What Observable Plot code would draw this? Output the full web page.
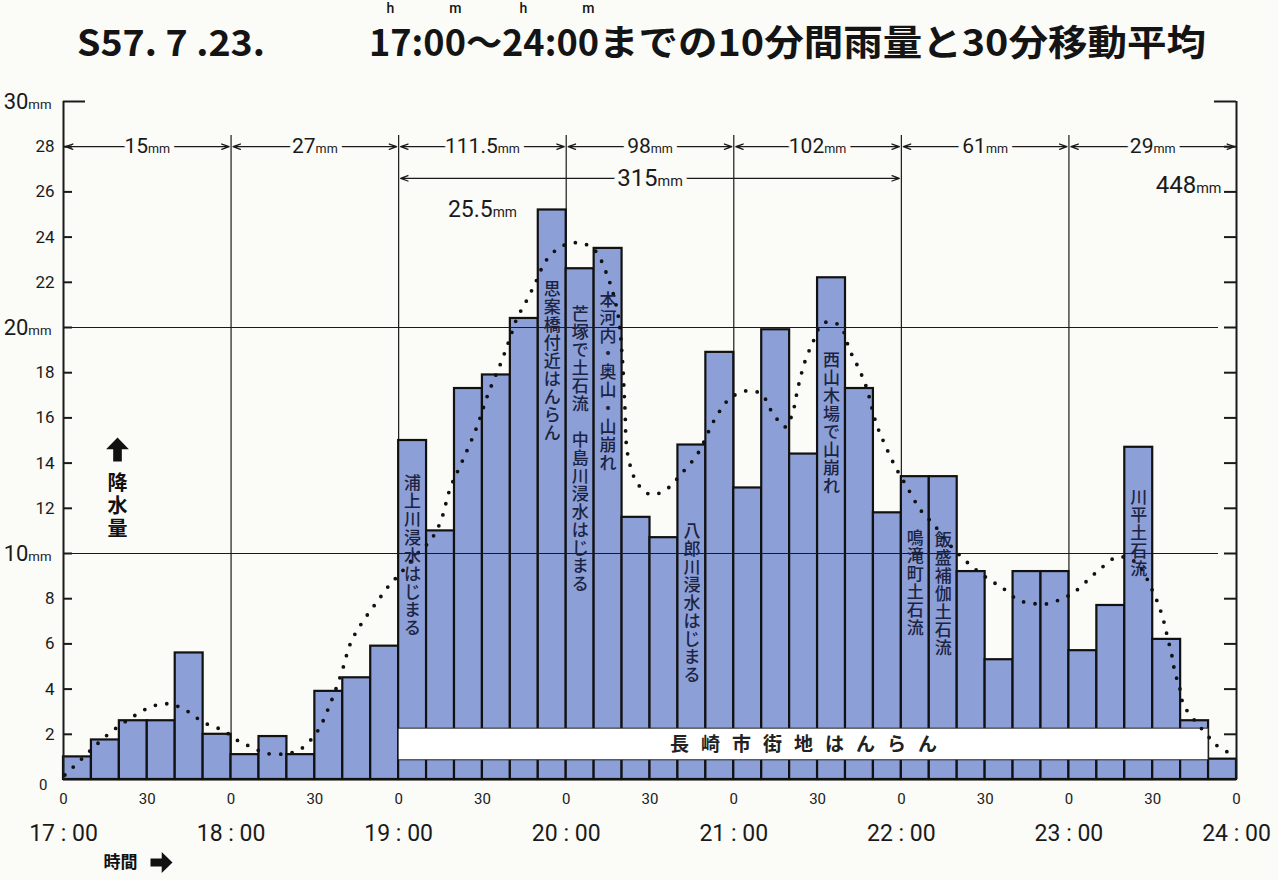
<!DOCTYPE html>
<html><head><meta charset="utf-8">
<script src="https://cdn.jsdelivr.net/npm/d3@7"></script>
<script src="https://cdn.jsdelivr.net/npm/@observablehq/plot@0.6"></script>
<style>
body{margin:0;background:#fbfbf8;width:1278px;height:880px;overflow:hidden;font-family:"Noto Sans CJK JP",sans-serif;}
#title{position:relative;height:70px;}
.tp{position:absolute;top:22px;font-size:36px;font-weight:700;line-height:1;white-space:nowrap;transform-origin:0 0;color:#141414;}
.ov{position:relative;}
.ov i{position:absolute;font-style:normal;font-family:Roboto,sans-serif;font-size:14px;line-height:1;font-weight:500;left:50%;top:-13px;transform:translateX(-50%);}
</style></head>
<body>
<div id="title">
  <span class="tp" data-x="77" data-w="188">S57. 7 .23.</span>
  <span class="tp" data-x="369" data-w="230"><span class="ov">17<i>h</i></span>:0<span class="ov">0<i>m</i></span>～<span class="ov">24<i>h</i></span>:0<span class="ov">0<i>m</i></span></span>
  <span class="tp" data-x="599" data-w="607">までの10分間雨量と30分移動平均</span>
</div>
<div id="chart"></div>
<script>
// ---- data ----
const slots = ["17:00","17:10","17:20","17:30","17:40","17:50","18:00","18:10","18:20","18:30","18:40","18:50",
  "19:00","19:10","19:20","19:30","19:40","19:50","20:00","20:10","20:20","20:30","20:40","20:50",
  "21:00","21:10","21:20","21:30","21:40","21:50","22:00","22:10","22:20","22:30","22:40","22:50",
  "23:00","23:10","23:20","23:30","23:40","23:50"];
const rain10 = [1.0,1.75,2.6,2.6,5.6,2.0, 1.1,1.9,1.1,3.9,4.5,5.9,
  15.0,11.0,17.3,17.9,20.4,25.2, 22.6,23.5,11.6,10.7,14.8,18.9,
  12.9,19.9,14.4,22.2,17.3,11.8, 13.4,13.4,9.2,5.3,9.2,9.2,
  5.7,7.7,14.7,6.2,2.6,0.9];
// 30-minute moving average as drawn (minutes after 17:00, mm)
const maMinute = [0.5,6,11,17,24.5,31,36,39.5,44,48,51.5,57.5,62,67,73,80,85,91,95.5,99.5,103,107.5,112.5,117,120.5,126,131.5,135,138.5,142.5,148,152,156.5,159.5,162.5,165,168.5,173,178.5,184.5,190,195,198.5,200,201,202,205.5,210.5,216.5,221,227,233,238,241,245,250,253.5,258.5,261,263,265.5,268.5,271.5,275,278.5,281.5,284.5,287.5,291,294,298,302,307,311.5,316.5,321.5,326.5,332,336,340.5,344,348.5,352,357.5,362,367,371.5,377.5,384,391,393.5,395,397,398,399.5,400.5,402,406.5,411,413.5,417,419.5];
const maValue = [0.2,0.85,1.45,2.1,2.75,3.2,3.35,3.3,3.05,2.7,2.45,2.15,1.75,1.45,1.15,1.15,1.35,2.15,3.35,4.7,6.1,7.05,7.9,8.65,9.1,9.9,10.6,11.4,12.9,14.0,15.6,17.05,18.4,19.4,20.45,21.0,21.85,23.0,23.6,23.75,23.45,22.2,20.6,18.8,16.5,14.4,13.1,12.6,12.9,13.5,14.4,15.9,16.8,17.05,17.2,17.05,16.3,15.6,16.2,17.35,18.5,19.4,20.15,20.25,20.0,19.0,18.25,17.35,15.75,14.85,13.8,12.95,11.9,11.3,10.5,9.85,9.3,8.8,8.5,8.05,7.85,7.77,7.77,8.0,8.3,8.85,9.35,9.85,9.6,8.05,7.2,6.45,5.4,4.7,4.15,3.5,3.1,2.4,1.75,1.45,1.2,1.0];
const hourTicks = ["17:00","18:00","19:00","20:00","21:00","22:00","23:00","24:00"];
const hourLabels = ["17 : 00","18 : 00","19 : 00","20 : 00","21 : 00","22 : 00","23 : 00","24 : 00"];
const halfHourTicks = ["17:00","17:30","18:00","18:30","19:00","19:30","20:00","20:30","21:00","21:30","22:00","22:30","23:00","23:30","24:00"];
const halfHourLabels = ["0","30","0","30","0","30","0","30","0","30","0","30","0","30","0"];
const yTickValues = [2,4,6,8,10,12,14,16,18,20,22,24,26,28];
const yLabelValues = [0,2,4,6,8,10,12,14,16,18,20,22,24,26,28,30];
const yLabelTexts = ["0","2","4","6","8","10|mm","12","14","16","18","20|mm","22","24","26","28","30|mm"];
const hourTotals = ["15","27","111.5","98","102","61","29"];
const spanTotal = {from:"19:00", to:"22:00", label:"315", level:26.6};
const peakNote = {at:"19:30", level:25.2, label:"25.5"};
const dayTotal = {label:"448", level:26};
const totalsLevel = 28;
const hourLineTop = 28.5;
const events = [
  {text:"浦上川浸水はじまる", at:"19:05", top:13.4},
  {text:"思案橋付近はんらん", at:"19:55", top:22.0},
  {text:"芒塚で土石流　中島川浸水はじまる", at:"20:05", top:20.9},
  {text:"本河内・奥山・山崩れ", at:"20:15", top:21.5},
  {text:"八郎川浸水はじまる", at:"20:45", top:11.3},
  {text:"西山木場で山崩れ", at:"21:35", top:18.85},
  {text:"鳴滝町土石流", at:"22:05", top:11.0},
  {text:"飯盛補伽土石流", at:"22:15", top:10.9},
  {text:"川平土石流", at:"23:25", top:12.8}
];
const floodBand = {from:"19:00", to:"23:50", low:0.85, high:2.25, label:"長崎市街地はんらん"};

// ---- helpers ----
const mins = s => { const [h,m] = s.split(":").map(Number); return (h-17)*60+m; };
const xEnd = mins("24:00");
const bars = slots.map((s,i)=>({x1: mins(s), x2: mins(s)+10, v: rain10[i]}));
const ma = maMinute.map((t,i)=>({t, v: maValue[i]}));
const hourSeg = hourTotals.map((v,i)=>({a: mins(hourTicks[i]), b: mins(hourTicks[i+1]), label: v+"|mm"}));
const hourArrows = hourSeg.flatMap(d=>[{f:(d.a+d.b)/2, t:d.a},{f:(d.a+d.b)/2, t:d.b}]);
const spanMid = (mins(spanTotal.from)+mins(spanTotal.to))/2;
const spanArrows = [{f:spanMid, t:mins(spanTotal.from)},{f:spanMid, t:mins(spanTotal.to)}];
const hourLines = hourTicks.slice(1,-1).map(mins);
const hourLabelMap = new Map(hourTicks.map((h,i)=>[mins(h), hourLabels[i]]));
const halfLabelMap = new Map(halfHourTicks.map((h,i)=>[mins(h), halfHourLabels[i]]));
const yLabels = yLabelValues.map((v,i)=>({v, t: yLabelTexts[i], big: yLabelTexts[i].includes("|")}));

const BG = "#fbfbf8", INK = "#1a1a1a", BAR = "#8c9fd7", NOTE = "#1c2442";
const NUM = "Roboto, 'Noto Sans', sans-serif";
const CJK = "'Noto Sans CJK JP', sans-serif";

const upArrow = {draw(c, size){ const r = Math.sqrt(size/Math.PI);
  c.moveTo(0,-r); c.lineTo(0.95*r,-0.02*r); c.lineTo(0.36*r,-0.02*r); c.lineTo(0.36*r,r);
  c.lineTo(-0.36*r,r); c.lineTo(-0.36*r,-0.02*r); c.lineTo(-0.95*r,-0.02*r); c.closePath(); }};

const totalText = (data, opts) => [
  Plot.text(data, {...opts, fill: BG, stroke: BG, strokeWidth: 10, className: "mm"}),
  Plot.text(data, {...opts, fill: INK, className: "mm"})
];

const chart = Plot.plot({
  width: 1278, height: 810,
  marginLeft: 63, marginRight: 42, marginTop: 31, marginBottom: 101,
  x: {domain: [0, xEnd]},
  y: {domain: [0, 30], axis: null},
  style: {background: "transparent", fontFamily: NUM, color: INK},
  marks: [
    Plot.ruleX(hourLines, {y1: 0, y2: hourLineTop, stroke: INK, strokeWidth: 1.2}),
    Plot.rectY(bars, {x1: "x1", x2: "x2", y: "v", fill: BAR, stroke: "#111", strokeWidth: 2.2}),
    Plot.rect([floodBand], {x1: d=>mins(d.from), x2: d=>mins(d.to), y1: "low", y2: "high", fill: "#ffffff", stroke: "#222", strokeWidth: 1}),
    Plot.text([floodBand], {x: d=>(mins(d.from)+mins(d.to))/2, y: d=>(d.low+d.high)/2, text: "label", fontSize: 19, fontWeight: 600, fontFamily: CJK, fill: "#222", className: "bandlabel"}),
    Plot.ruleY([10, 20], {stroke: INK, strokeWidth: 1.1, insetRight: 18}),
    // frame lines
    Plot.ruleY([0], {stroke: "#111", strokeWidth: 2}),
    Plot.ruleX([0], {y1: 0, y2: 30, stroke: INK, strokeWidth: 2}),
    Plot.ruleX([xEnd], {y1: 0, y2: 30, stroke: INK, strokeWidth: 2}),
    Plot.ruleY(yTickValues, {x1: 0, x2: 0, insetRight: -9, stroke: INK, strokeWidth: 2}),
    Plot.ruleY(yTickValues, {x1: xEnd, x2: xEnd, insetLeft: -12, stroke: INK, strokeWidth: 2}),
    Plot.ruleY([30], {x1: 0, x2: 0, insetRight: -22, stroke: INK, strokeWidth: 2}),
    Plot.ruleY([30], {x1: xEnd, x2: xEnd, insetLeft: -22, stroke: INK, strokeWidth: 2}),
    // moving average
    Plot.line(ma, {x: "t", y: "v", curve: "catmull-rom", stroke: "#111", strokeWidth: 3.8, strokeDasharray: "0,11.5", strokeLinecap: "round"}),
    // event notes (one character per line)
    Plot.text(events, {x: d=>mins(d.at), y: "top", text: d=>[...d.text].join("\n"), lineAnchor: "top", lineHeight: 1.06, fontSize: 17, fontWeight: 500, fontFamily: CJK, fill: NOTE}),
    // hourly totals
    Plot.arrow(hourArrows, {x1: "f", x2: "t", y1: totalsLevel, y2: totalsLevel, stroke: INK, strokeWidth: 1.3, headLength: 9, headAngle: 40, insetEnd: 2}),
    ...totalText(hourSeg, {x: d=>(d.a+d.b)/2, y: totalsLevel, text: "label", fontSize: 21}),
    Plot.arrow(spanArrows, {x1: "f", x2: "t", y1: spanTotal.level, y2: spanTotal.level, stroke: INK, strokeWidth: 1.3, headLength: 9, headAngle: 40, insetEnd: 2}),
    ...totalText([spanTotal], {x: spanMid, y: "level", text: d=>d.label+"|mm", fontSize: 24}),
    Plot.text([peakNote], {x: d=>mins(d.at), y: "level", text: d=>d.label+"|mm", fontSize: 23, fill: INK, className: "mm"}),
    Plot.text([dayTotal], {x: xEnd, y: "level", text: d=>d.label+"|mm", fontSize: 24, fill: INK, textAnchor: "end", lineAnchor: "bottom", dx: -15, dy: 1, className: "mm"}),
    // y labels
    Plot.text(yLabels.filter(d=>d.v>0 && !d.big), {x: 0, y: "v", text: "t", textAnchor: "end", dx: -9, fontSize: 17, fill: INK}),
    Plot.text(yLabels.filter(d=>d.big), {x: 0, y: "v", text: "t", textAnchor: "end", dx: -12, fontSize: 22, fill: INK, className: "mm"}),
    Plot.text(yLabels.filter(d=>d.v===0), {x: 0, y: "v", text: "t", textAnchor: "end", dx: -16, dy: 6, fontSize: 15, fill: INK}),
    // x labels
    Plot.axisX({ticks: halfHourTicks.map(mins), tickFormat: d=>halfLabelMap.get(d), tickSize: 0, tickPadding: 14, fontSize: 15, label: null}),
    Plot.axisX({ticks: hourTicks.map(mins), tickFormat: d=>hourLabelMap.get(d), tickSize: 0, tickPadding: 45, fontSize: 23, label: null}),
    // axis titles
    Plot.dot([0], {frameAnchor: "left", dx: 54, dy: 9, r: 12, symbol: upArrow, fill: "#111", stroke: null}),
    Plot.text(["降水量"], {frameAnchor: "left", dx: 54, dy: 33, text: d=>[...d].join("\n"), textAnchor: "middle", lineAnchor: "top", lineHeight: 1.15, fontSize: 20, fontWeight: 700, fontFamily: CJK, fill: "#111"}),
    Plot.text(["時間"], {frameAnchor: "bottom-left", dx: 57, dy: 83, text: d=>d, textAnchor: "middle", lineAnchor: "middle", fontSize: 17, fontWeight: 700, fontFamily: CJK, fill: "#111"}),
    Plot.dot([0], {frameAnchor: "bottom-left", dx: 98, dy: 83, r: 11, rotate: 90, symbol: upArrow, fill: "#111", stroke: null})
  ]
});
document.getElementById("chart").append(chart);

// small "mm" suffixes
const NS = "http://www.w3.org/2000/svg";
chart.querySelectorAll("g.mm text").forEach(t => {
  const s = t.textContent; const parts = s.split("|");
  if (parts.length < 2) return;
  t.textContent = "";
  const a = document.createElementNS(NS, "tspan"); a.textContent = parts[0];
  const b = document.createElementNS(NS, "tspan"); b.textContent = parts[1]; b.setAttribute("font-size", "0.6em");
  t.append(a, b);
});
chart.querySelectorAll("g.bandlabel text").forEach(t => { t.setAttribute("letter-spacing", "12px"); t.setAttribute("dx", "6"); });

// fit title pieces
document.querySelectorAll(".tp").forEach(el => {
  el.style.left = el.dataset.x + "px";
  const w = el.getBoundingClientRect().width;
  el.style.transform = `scaleX(${(+el.dataset.w) / w})`;
});
</script>
</body></html>
